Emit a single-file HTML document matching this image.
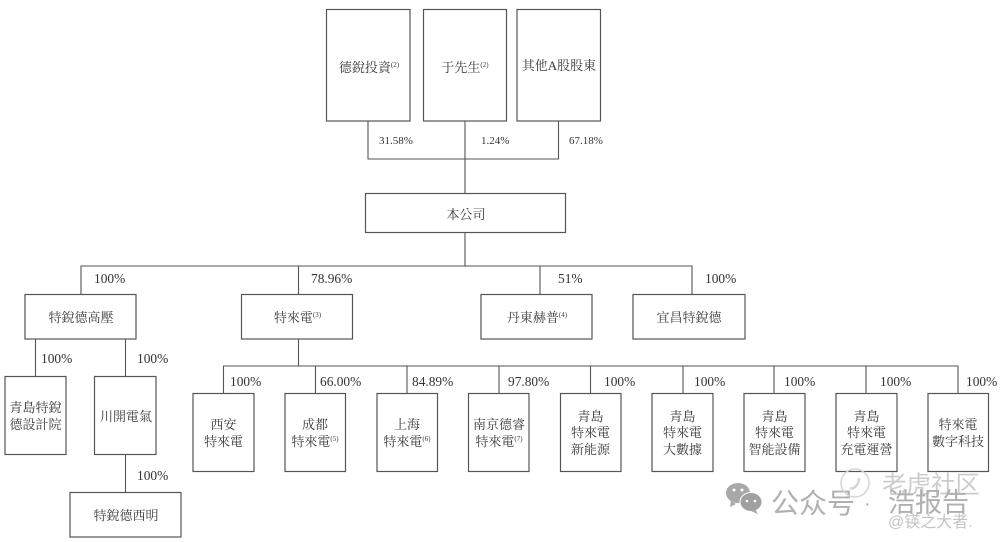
<!DOCTYPE html>
<html><head><meta charset="utf-8">
<style>
html,body{margin:0;padding:0;background:#fff}
svg{display:block}
text{font-family:"Liberation Serif","Noto Serif CJK TC","Noto Serif CJK SC",serif;fill:#3a3a3a;font-size:13px;text-anchor:middle}
.p{font-family:"Liberation Serif",serif;font-size:13.400px;text-anchor:start;fill:#333}
.s{font-size:11px}
.u{font-size:7px}
rect{fill:#fff;stroke:#555;stroke-width:1.2}
path{fill:none;stroke:#555;stroke-width:1.1}
.w{font-family:"Liberation Sans","Noto Sans CJK SC",sans-serif;fill:#b5b5b5;text-anchor:start}
</style></head><body>
<svg width="1000" height="542" viewBox="0 0 1000 542" xmlns="http://www.w3.org/2000/svg">
<path d="M368 121V159H558.500V121M465 121V193M465 232V266M81 294V266H692V294M298.500 266V294M540 266V294"/>
<path d="M35.500 339V376M125.500 339V376M125.500 454V492"/>
<path d="M298.500 339V366M223.500 393V366H958V393M315.500 366V393M407 366V393M499 366V393M590.500 366V393M683 366V393M774 366V393M866 366V393M958 366V393"/>
<rect x="326.500" y="9.500" width="83.500" height="111.500"/>
<rect x="423.500" y="9.500" width="83" height="111.500"/>
<rect x="517" y="9.500" width="83.500" height="111.500"/>
<rect x="365.500" y="193.500" width="200" height="39"/>
<rect x="25" y="294.500" width="111" height="44.500"/>
<rect x="241.500" y="294.500" width="111" height="44.500"/>
<rect x="481" y="294.500" width="111" height="44.500"/>
<rect x="633" y="294.500" width="112" height="44.500"/>
<rect x="5" y="376.500" width="61" height="78"/>
<rect x="94.500" y="376.500" width="61.500" height="78"/>
<rect x="70" y="492.500" width="111" height="44.500"/>
<rect x="193" y="393.500" width="61" height="78"/>
<rect x="285" y="393.500" width="60.500" height="78"/>
<rect x="377" y="393.500" width="60.500" height="78"/>
<rect x="468.500" y="393.500" width="60.500" height="78"/>
<rect x="560.500" y="393.500" width="60.500" height="78"/>
<rect x="652" y="393.500" width="61" height="78"/>
<rect x="744" y="393.500" width="61" height="78"/>
<rect x="836" y="393.500" width="61" height="78"/>
<rect x="928" y="393.500" width="60.500" height="78"/>

<text x="369" y="72">德銳投資<tspan class="u" dy="-5">(2)</tspan></text>
<text x="465" y="72">于先生<tspan class="u" dy="-5">(2)</tspan></text>
<text x="559" y="70">其他A股股東</text>
<text x="466" y="219">本公司</text>
<text x="81" y="322">特銳德高壓</text>
<text x="297.500" y="322">特來電<tspan class="u" dy="-5">(3)</tspan></text>
<text x="537" y="322">丹東赫普<tspan class="u" dy="-5">(4)</tspan></text>
<text x="689" y="322">宜昌特銳德</text>
<text x="35.500" y="412">青島特銳</text>
<text x="35.500" y="429">德設計院</text>
<text x="126" y="421">川開電氣</text>
<text x="126" y="520">特銳德西明</text>
<text x="223.500" y="429">西安</text><text x="223.500" y="446">特來電</text>
<text x="315" y="429">成都</text><text x="315" y="446">特來電<tspan class="u" dy="-5">(5)</tspan></text>
<text x="407" y="429">上海</text><text x="407" y="446">特來電<tspan class="u" dy="-5">(6)</tspan></text>
<text x="499" y="429">南京德睿</text><text x="499" y="446">特來電<tspan class="u" dy="-5">(7)</tspan></text>
<text x="590.500" y="421">青島</text><text x="590.500" y="437">特來電</text><text x="590.500" y="454">新能源</text>
<text x="682.500" y="421">青島</text><text x="682.500" y="437">特來電</text><text x="682.500" y="454">大數據</text>
<text x="774.500" y="421">青島</text><text x="774.500" y="437">特來電</text><text x="774.500" y="454">智能設備</text>
<text x="866.500" y="421">青島</text><text x="866.500" y="437">特來電</text><text x="866.500" y="454">充電運營</text>
<text x="958" y="429">特來電</text><text x="958" y="446">數字科技</text>

<text class="p s" x="379" y="144">31.58%</text>
<text class="p s" x="481" y="144">1.24%</text>
<text class="p s" x="569" y="144">67.18%</text>
<text class="p" x="94" y="283">100%</text>
<text class="p" x="311" y="283">78.96%</text>
<text class="p" x="558" y="283">51%</text>
<text class="p" x="705" y="283">100%</text>
<text class="p" x="41" y="363">100%</text>
<text class="p" x="137" y="363">100%</text>
<text class="p" x="137" y="480">100%</text>
<text class="p" x="230" y="386">100%</text>
<text class="p" x="320" y="386">66.00%</text>
<text class="p" x="412" y="386">84.89%</text>
<text class="p" x="508" y="386">97.80%</text>
<text class="p" x="604" y="386">100%</text>
<text class="p" x="694" y="386">100%</text>
<text class="p" x="784" y="386">100%</text>
<text class="p" x="880" y="386">100%</text>
<text class="p" x="966" y="386">100%</text>

<ellipse cx="738" cy="493" rx="12" ry="10" style="fill:#a8a8a8"/>
<ellipse cx="751" cy="502" rx="11" ry="9.500" style="fill:#a0a0a0;stroke:#fff"/>
<path d="M731 501l-1 6 6-3M755 509l3 5-7-3" style="fill:#a8a8a8;stroke:none"/>
<circle cx="734" cy="490" r="1.500" style="fill:#fff"/><circle cx="742" cy="490" r="1.500" style="fill:#fff"/>
<circle cx="747" cy="501" r="1.300" style="fill:#fff"/><circle cx="755" cy="501" r="1.300" style="fill:#fff"/>
<text class="w" x="771" y="513" style="font-size:28px;fill:#b0b0b0">公众号</text>
<text class="w" x="864" y="510" style="font-size:20px;fill:#b0b0b0">·</text>
<circle cx="855" cy="483" r="14" style="fill:none;stroke:#d5d5d5;stroke-width:1.500"/>
<path d="M850 488c4 2 9-4 9-10" style="stroke:#d5d5d5;stroke-width:2.500"/>
<text class="w" x="882" y="493" style="font-size:24.500px;fill:#cccccc">老虎社区</text>
<text class="w" x="888" y="512" style="font-size:27px;fill:#b0b0b0">浩报告</text>
<text class="w" x="888" y="527" style="font-size:16px;fill:#c4c4c4">@锳之大者.</text>
</svg>
</body></html>
